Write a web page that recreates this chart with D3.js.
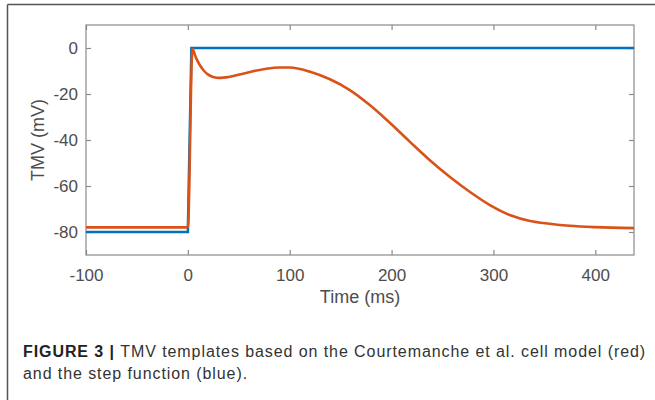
<!DOCTYPE html>
<html>
<head>
<meta charset="utf-8">
<script src="https://cdn.jsdelivr.net/npm/d3@7"></script>
<style>
  body { margin: 0; background: #fff; }
  text { font-family: "Liberation Sans", Arial, sans-serif; }
</style>
</head>
<body>
<div id="viz-container"></div>
<script>
// Courtemanche AP template (red)
let apTime = [-100, 0, 4.5, 8, 12, 16, 20, 24, 28, 32, 40, 52, 64, 77, 90, 100, 120, 139, 159, 178, 198, 218, 237, 257, 277, 297, 316, 336, 355, 375, 400, 438];
let apValue = [-78, -78, -0.5, -4.3, -7.6, -10.0, -11.6, -12.5, -12.9, -13.0, -12.6, -11.4, -10.1, -9.0, -8.45, -8.45, -10.3, -13.5, -18.3, -24.6, -32.4, -40.8, -48.6, -56.0, -62.6, -68.4, -72.6, -75.2, -76.4, -77.3, -77.9, -78.3];

// step function template (blue)
let stepTime = [-100, 0, 3.5, 438];
let stepValue = [-80, -80, 0, 0];

let xTicks = [-100, 0, 100, 200, 300, 400];
let yTicks = [-80, -60, -40, -20, 0];

let viz = d3.select('#viz-container')
  .append('svg')
    .attr('width', 655)
    .attr('height', 400)
;

// figure frame (top and left rule)
viz.append('line')
  .attr('x1', 7.5).attr('y1', 4.5).attr('x2', 655).attr('y2', 4.5)
  .attr('stroke', '#555').attr('stroke-width', 1.5);
viz.append('line')
  .attr('x1', 7.5).attr('y1', 4.5).attr('x2', 7.5).attr('y2', 400)
  .attr('stroke', '#555').attr('stroke-width', 1.5);

let pLeft = 86, pRight = 634, pTop = 25, pBottom = 255;

let x = d3.scaleLinear().domain([-100, 438]).range([pLeft, pRight]);
let y = d3.scaleLinear().domain([-90, 10]).range([pBottom, pTop]);

viz.append('clipPath').attr('id', 'clip')
  .append('rect')
    .attr('x', pLeft).attr('y', pTop)
    .attr('width', pRight - pLeft).attr('height', pBottom - pTop);

let axisColor = '#8a8a8a';
let textColor = '#4d4d4d';
let plainNum = d => String(d);  // hyphen minus like the original

function styleAxis(g){
  g.select('.domain').remove();
  g.selectAll('.tick line').attr('stroke', axisColor).attr('stroke-width', 1.2);
  g.selectAll('.tick text').attr('fill', textColor).style('font-size', '17px');
}

// bottom axis, ticks inward
viz.append('g')
  .attr('transform', 'translate(0,' + pBottom + ')')
  .call(d3.axisBottom(x).tickValues(xTicks).tickSize(-5).tickPadding(14).tickFormat(plainNum))
  .call(styleAxis);

// top axis, ticks inward, no labels
viz.append('g')
  .attr('transform', 'translate(0,' + pTop + ')')
  .call(d3.axisTop(x).tickValues(xTicks).tickSize(-5).tickFormat(''))
  .call(styleAxis);

// left axis
viz.append('g')
  .attr('transform', 'translate(' + pLeft + ',0)')
  .call(d3.axisLeft(y).tickValues(yTicks).tickSize(-5).tickPadding(8).tickFormat(plainNum))
  .call(styleAxis);

// right axis
viz.append('g')
  .attr('transform', 'translate(' + pRight + ',0)')
  .call(d3.axisRight(y).tickValues(yTicks).tickSize(-5).tickFormat(''))
  .call(styleAxis);

// box
viz.append('rect')
  .attr('x', pLeft).attr('y', pTop)
  .attr('width', pRight - pLeft).attr('height', pBottom - pTop)
  .attr('fill', 'none')
  .attr('stroke', axisColor)
  .attr('stroke-width', 1.2);

let stepData = stepTime.map((t, i) => ({t: t, v: stepValue[i]}));
let apData = apTime.map((t, i) => ({t: t, v: apValue[i]}));

viz.append('path')
  .datum(stepData)
  .attr('clip-path', 'url(#clip)')
  .attr('d', d3.line().x(d => x(d.t)).y(d => y(d.v)))
  .attr('fill', 'none')
  .attr('stroke', '#0072BD')
  .attr('stroke-width', 2.6);

viz.append('path')
  .datum(apData)
  .attr('clip-path', 'url(#clip)')
  .attr('d', d3.line().x(d => x(d.t)).y(d => y(d.v)).curve(d3.curveMonotoneX))
  .attr('fill', 'none')
  .attr('stroke', '#D95319')
  .attr('stroke-width', 2.6);

// axis labels
viz.append('text')
  .attr('x', (pLeft + pRight) / 2)
  .attr('y', 303)
  .attr('text-anchor', 'middle')
  .attr('fill', textColor)
  .style('font-size', '18px')
  .text('Time (ms)');

viz.append('text')
  .attr('transform', 'translate(44,' + (pTop + pBottom) / 2 + ') rotate(-90)')
  .attr('text-anchor', 'middle')
  .attr('fill', textColor)
  .style('font-size', '18px')
  .text('TMV (mV)');

// caption
let cap1 = viz.append('text')
  .attr('x', 23)
  .attr('y', 357)
  .attr('fill', '#333')
  .style('font-size', '16px')
  .style('letter-spacing', '0.92px');
cap1.append('tspan').attr('font-weight', 'bold').attr('fill', '#222').text('FIGURE 3 | ');
cap1.append('tspan').text('TMV templates based on the Courtemanche et al. cell model (red)');

viz.append('text')
  .attr('x', 23)
  .attr('y', 379)
  .attr('fill', '#333')
  .style('font-size', '16px')
  .style('letter-spacing', '0.92px')
  .text('and the step function (blue).');
</script>
</body>
</html>
